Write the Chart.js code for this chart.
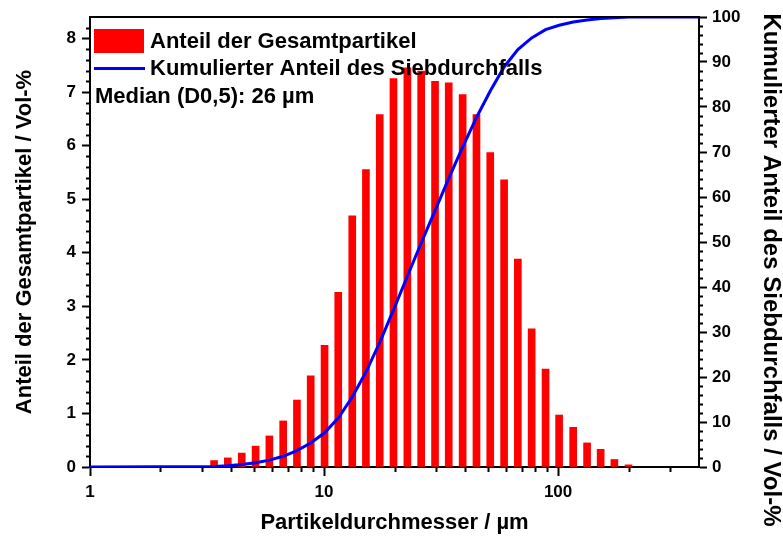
<!DOCTYPE html>
<html>
<head>
<meta charset="utf-8">
<title>Partikelgrößenverteilung</title>
<script src="https://cdn.jsdelivr.net/npm/chart.js"></script>
<style>
  html, body { margin: 0; padding: 0; background: #fff; }
  #chart { display: block; }
</style>
</head>
<body>
<canvas id="chart" width="783" height="542"></canvas>
<script>
// Klassenmitten der Partikelgrößen (µm)
const particleSizes = [3.39, 3.88, 4.45, 5.10, 5.84, 6.69, 7.66, 8.77, 10.05, 11.5,
  13.2, 15.1, 17.3, 19.8, 22.7, 26.0, 29.8, 34.1, 39.1, 44.8,
  51.3, 58.8, 67.3, 77.1, 88.4, 101, 116, 133, 152, 174, 200];

// Anteil der Gesamtpartikel je Klasse (Vol-%)
const volumeShare = [0.12, 0.17, 0.26, 0.39, 0.58, 0.86, 1.25, 1.70, 2.27, 3.26,
  4.69, 5.55, 6.58, 7.25, 7.45, 7.39, 7.20, 7.17, 6.95, 6.58,
  5.87, 5.36, 3.88, 2.58, 1.83, 0.97, 0.74, 0.45, 0.33, 0.14, 0.04];

// Summenkurve (Siebdurchfall, Vol-%)
const cumulativeSizes = [1, 3.39, 3.88, 4.45, 5.10, 5.84, 6.69, 7.66, 8.77, 10.05, 11.5,
  13.2, 15.1, 17.3, 19.8, 22.7, 26.0, 29.8, 34.1, 39.1, 44.8,
  51.3, 58.8, 67.3, 77.1, 88.4, 101, 116, 133, 152, 174, 200, 400];
const cumulativeShare = [0, 0.12, 0.29, 0.55, 0.94, 1.52, 2.38, 3.63, 5.33, 7.60, 10.86,
  15.55, 21.10, 27.68, 34.93, 42.38, 49.77, 56.97, 64.14, 71.09, 77.67,
  83.54, 88.90, 92.78, 95.36, 97.19, 98.16, 98.90, 99.35, 99.68, 99.82, 100, 100];

// Achsenbeschriftungen
const xMajorTicks = [1, 10, 100];
const xMinorTicks = [2, 3, 4, 5, 6, 7, 8, 9, 20, 30, 40, 50, 60, 70, 80, 90, 200, 300];
const leftTicks = [0, 1, 2, 3, 4, 5, 6, 7, 8];
const rightTicks = [0, 10, 20, 30, 40, 50, 60, 70, 80, 90, 100];

const labelBar = 'Anteil der Gesamtpartikel';
const labelLine = 'Kumulierter Anteil des Siebdurchfalls';
const medianText = 'Median (D0,5): 26 µm';
const rightTitle = 'Kumulierter Anteil des Siebdurchfalls / Vol-%';

const FONT = "'Liberation Sans', Arial, sans-serif";
const tickFont = { family: FONT, size: 17, weight: 'bold' };
const titleFont = { family: FONT, size: 22, weight: 'bold' };

// Minor ticks + top frame line
const minorTicksPlugin = {
  id: 'minorTicks',
  afterDraw(chart) {
    const { ctx, chartArea: a, scales } = chart;
    ctx.save();
    ctx.strokeStyle = '#000';
    ctx.lineWidth = 2;
    ctx.beginPath();
    // left axis: 0.2 steps
    for (let v = 0.2; v < 8.4; v += 0.2) {
      if (Math.abs(v - Math.round(v)) < 1e-6) continue;
      const y = Math.round(scales.y.getPixelForValue(v)) + 0.5;
      ctx.moveTo(a.left - 4, y);
      ctx.lineTo(a.left, y);
    }
    // right axis: 2 % steps
    for (let v = 2; v < 100; v += 2) {
      if (v % 10 === 0) continue;
      const y = Math.round(scales.y2.getPixelForValue(v)) + 0.5;
      ctx.moveTo(a.right, y);
      ctx.lineTo(a.right + 4, y);
    }
    // bottom axis: log minors
    xMinorTicks.forEach(v => {
      const x = Math.round(scales.x.getPixelForValue(v)) + 0.5;
      ctx.moveTo(x, a.bottom);
      ctx.lineTo(x, a.bottom + 5);
    });
    ctx.stroke();

    // top frame
    ctx.beginPath();
    ctx.moveTo(a.left - 1, a.top);
    ctx.lineTo(a.right + 1, a.top);
    ctx.stroke();

    // right axis title, reads top to bottom
    ctx.translate(771, 270);
    ctx.rotate(Math.PI / 2);
    ctx.fillStyle = '#000';
    ctx.font = `bold 24px ${FONT}`;
    ctx.textAlign = 'center';
    ctx.textBaseline = 'middle';
    ctx.fillText(rightTitle, 0, 0);
    ctx.restore();
  }
};

// Legende und Medianangabe im Diagrammfeld
const legendPlugin = {
  id: 'innerLegend',
  afterDatasetsDraw(chart) {
    const { ctx, chartArea: a } = chart;
    const x0 = a.left + 4;
    ctx.save();
    ctx.fillStyle = '#ff0000';
    ctx.fillRect(x0, 29, 50, 24);

    ctx.strokeStyle = '#0000ff';
    ctx.lineWidth = 3;
    ctx.beginPath();
    ctx.moveTo(x0, 68.5);
    ctx.lineTo(x0 + 51, 68.5);
    ctx.stroke();

    ctx.fillStyle = '#000';
    ctx.font = `bold 22px ${FONT}`;
    ctx.textBaseline = 'middle';
    ctx.fillText(labelBar, x0 + 56, 42);
    ctx.fillText(labelLine, x0 + 56, 69);
    ctx.fillText(medianText, x0 + 1, 97);
    ctx.restore();
  }
};

const config = {
  type: 'bar',
  data: {
    datasets: [
      {
        type: 'line',
        label: labelLine,
        data: cumulativeSizes.map((s, i) => ({ x: s, y: cumulativeShare[i] })),
        borderColor: '#0000ff',
        borderWidth: 3,
        pointRadius: 0,
        tension: 0,
        fill: false,
        yAxisID: 'y2',
        order: 0,
      },
      {
        label: labelBar,
        data: particleSizes.map((s, i) => ({ x: s, y: volumeShare[i] })),
        backgroundColor: '#ff0000',
        borderWidth: 0,
        barThickness: 7,
        yAxisID: 'y',
        order: 1,
      },
    ],
  },
  options: {
    responsive: false,
    animation: false,
    layout: { padding: { top: 17, left: 0, right: 0, bottom: 0 } },
    plugins: {
      legend: { display: false },
      tooltip: { enabled: false },
    },
    scales: {
      x: {
        type: 'logarithmic',
        min: 1,
        max: 400,
        offset: false,
        afterBuildTicks: s => { s.ticks = xMajorTicks.map(v => ({ value: v })); },
        afterFit: s => { s.height = 75; },
        ticks: {
          autoSkip: false,
          maxRotation: 0,
          padding: 6,
          color: '#000',
          font: tickFont,
          callback: v => String(v),
        },
        grid: { offset: false, drawOnChartArea: false, tickLength: 9, tickWidth: 2, tickColor: '#000' },
        border: { color: '#000', width: 2 },
        title: {
          display: true,
          text: 'Partikeldurchmesser / µm',
          color: '#000',
          font: titleFont,
          padding: { top: 0, bottom: 6 },
        },
      },
      y: {
        position: 'left',
        min: 0,
        max: 8.4,
        afterBuildTicks: s => { s.ticks = leftTicks.map(v => ({ value: v })); },
        afterFit: s => { s.width = 90; },
        ticks: { padding: 6, color: '#000', font: tickFont },
        grid: { drawOnChartArea: false, tickLength: 8, tickWidth: 2, tickColor: '#000' },
        border: { color: '#000', width: 2 },
        title: {
          display: true,
          text: 'Anteil der Gesamtpartikel / Vol-%',
          color: '#000',
          font: titleFont,
          padding: { top: 12, bottom: 0 },
        },
      },
      y2: {
        position: 'right',
        min: 0,
        max: 100,
        afterBuildTicks: s => { s.ticks = rightTicks.map(v => ({ value: v })); },
        afterFit: s => { s.width = 84; },
        ticks: { padding: 5, color: '#000', font: tickFont },
        grid: { drawOnChartArea: false, tickLength: 8, tickWidth: 2, tickColor: '#000' },
        border: { color: '#000', width: 2 },
        title: { display: false },
      },
    },
  },
  plugins: [minorTicksPlugin, legendPlugin],
};

new Chart(document.getElementById('chart').getContext('2d'), config);
</script>
</body>
</html>
